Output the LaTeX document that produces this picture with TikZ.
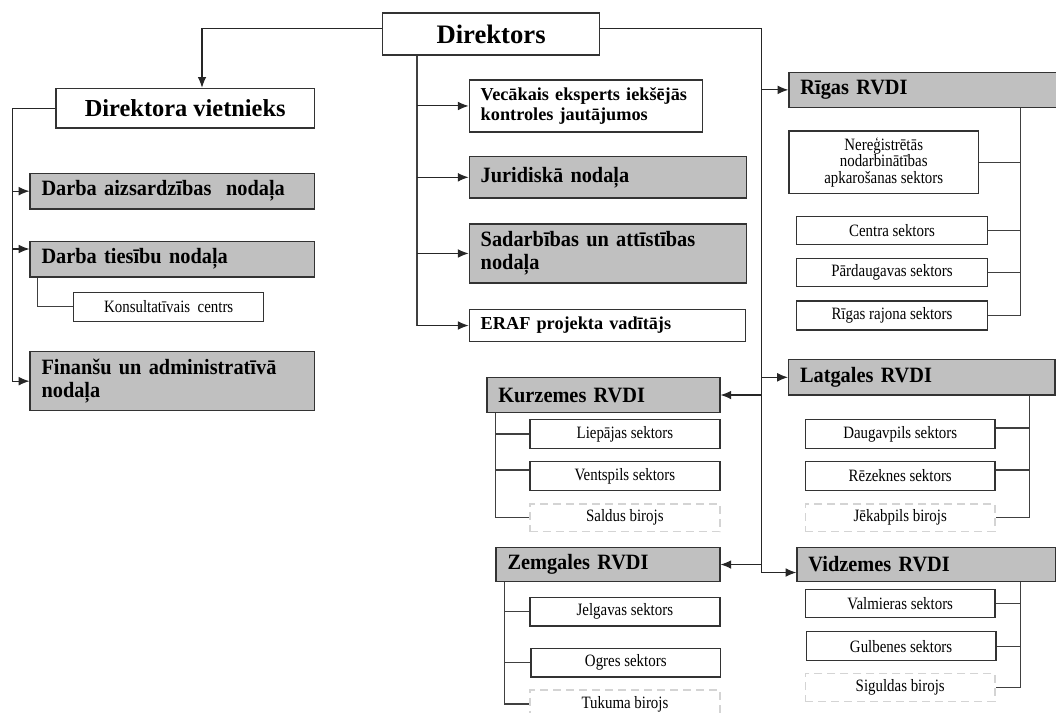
\documentclass[tikz,border=0pt]{standalone}
\usepackage{fontspec}
\setmainfont{Liberation Serif}
\newfontfamily\narrowserif[FakeStretch=0.86]{Liberation Serif}
\newfontfamily\headserif[FakeStretch=0.93]{Liberation Serif}
\usetikzlibrary{arrows.meta,calc}
\definecolor{boxgray}{HTML}{C0C0C0}
\definecolor{edgegray}{HTML}{333333}
\definecolor{linkgray}{HTML}{404040}
\definecolor{dashgray}{HTML}{D4D4D4}
\begin{document}
\begin{tikzpicture}[x=0.75pt,y=-0.75pt,
base node/.style={draw=edgegray,line width=1pt,anchor=north west,inner ysep=0pt},
white node/.style 2 args={base node,fill=white,inner xsep=0pt,minimum width=#1*0.75pt,minimum height=#2*0.75pt,align=center},
gray node/.style 2 args={base node,fill=boxgray,inner xsep=8.6pt,text width=#1*0.75pt-17.2pt,minimum height=#2*0.75pt,align=left},
left node/.style 2 args={gray node={#1}{#2},fill=white},
dash node/.style 2 args={white node={#1}{#2},draw=dashgray,dash pattern=on 6pt off 3.75pt},
top font/.style={font=\bfseries\fontsize{20}{22}\selectfont},
vice font/.style={font=\bfseries\fontsize{18.3}{20}\selectfont},
head font/.style={font=\headserif\bfseries\fontsize{16.4}{17.5}\selectfont},
mid font/.style={font=\bfseries\fontsize{13.7}{15}\selectfont},
small font/.style={font=\narrowserif\fontsize{13}{12.4}\selectfont},
arr/.style={-{Latex[length=8pt,width=6.5pt]},draw=black!85,line width=0.8pt},
link/.style={draw=linkgray,line width=0.8pt}]
\useasboundingbox (0,0) rectangle (1056,713);
\begin{scope}
\node[white node={216.8}{42},top font] (dir) at (382,12.3) {Direktors};
\node[white node={258.3}{39.6},vice font] (viet) at (55.4,87.7) {Direktora vietnieks};
\node[gray node={284.3}{35.6},head font] (aiz) at (29.4,172.7) {Darba aizsardzības~ nodaļa};
\node[gray node={284.3}{35.6},head font] (tie) at (29.4,240.7) {Darba tiesību nodaļa};
\node[white node={190}{29},small font] (kon) at (73,291.7) {Konsultatīvais~ centrs};
\node[gray node={284.3}{59},head font] (fin) at (29.4,351) {Finanšu un administratīvā\\nodaļa};
\node[left node={233.2}{52},mid font] (vec) at (468.6,79.3) {Vecākais eksperts iekšējās\\kontroles jautājumos};
\node[gray node={277.1}{41.3},head font] (jur) at (468.6,156) {Juridiskā nodaļa};
\node[gray node={277.1}{59},head font] (sad) at (468.6,223.3) {Sadarbības un attīstības\\nodaļa};
\node[left node={276.1}{32.3},mid font] (era) at (468.6,308.7) {ERAF projekta vadītājs};
\node[gray node={290}{35},head font] (rig) at (788.3,71.7) {Rīgas RVDI};
\node[white node={189.5}{62.4},small font] (ner) at (788.3,130.3) {Nereģistrētās\\nodarbinātības\\apkarošanas sektors};
\node[white node={190.6}{27.7},small font] (cen) at (796,216) {Centra sektors};
\node[white node={190.6}{28},small font] (par) at (796,258) {Pārdaugavas sektors};
\node[white node={190.6}{29},small font] (rra) at (796,300.3) {Rīgas rajona sektors};
\node[gray node={266.5}{35.3},head font] (lat) at (787.9,359) {Latgales RVDI};
\node[white node={189.5}{28.7},small font] (dau) at (804.8,419) {Daugavpils sektors};
\node[white node={189.5}{28.7},small font] (rez) at (804.8,461) {Rēzeknes sektors};
\node[dash node={189.5}{27.7},small font] (jek) at (804.8,503.3) {Jēkabpils birojs};
\node[gray node={233}{35.3},head font] (kur) at (486.2,376.7) {Kurzemes RVDI};
\node[white node={190}{28.7},small font] (lie) at (529.2,419) {Liepājas sektors};
\node[white node={190}{28.7},small font] (ven) at (529.2,461) {Ventspils sektors};
\node[dash node={190}{27.7},small font] (sal) at (529.2,503.3) {Saldus birojs};
\node[gray node={223.8}{34.3},head font] (zem) at (495.4,546.7) {Zemgales RVDI};
\node[white node={190}{28.6},small font] (jel) at (529.2,596.7) {Jelgavas sektors};
\node[white node={189.6}{28.6},small font] (ogr) at (530.3,647.7) {Ogres sektors};
\node[dash node={190}{28},small font] (tuk) at (529.3,689.3) {Tukuma birojs};
\node[gray node={258.2}{34.3},head font] (vid) at (796.3,546.7) {Vidzemes RVDI};
\node[white node={189.5}{28},small font] (val) at (804.8,588.7) {Valmieras sektors};
\node[white node={189.9}{29},small font] (gul) at (805.5,631) {Gulbenes sektors};
\node[dash node={189.5}{28},small font] (sig) at (804.8,672.7) {Siguldas birojs};
%\node[white node={}{},small font] () at (,) {};
\end{scope}
\begin{scope}
\coordinate (vt) at (202,28.3);
\coordinate (rt) at (761.8,28.3);
\coordinate (lb) at (12.5,0);
\coordinate (tb) at (37.5,0);
\coordinate (cb) at (417,0);
\coordinate (rb) at (1020.8,0);
\coordinate (gb) at (1029.2,0);
\coordinate (vb) at (1020.8,0);
\coordinate (kb) at (495.4,0);
\coordinate (zb) at (504.2,0);
\coordinate (tiein) at ($(tie.north west)+(0,8.3)$);
\draw[arr] (dir.west |- vt) -- (vt) -- (viet.north -| vt);
\draw[arr] (dir.east |- rt) -- (rt) |- ([yshift=-6pt]vid.west);
\draw[arr] (viet.west) -| (lb |- fin.west) -- (fin.west);
\draw[arr] (lb |- aiz.west) -- (aiz.west);
\draw[arr] (lb |- tiein) -- (tiein);
\draw[link] (tie.south -| tb) |- (kon.west);
\draw[link] (dir.south -| cb) -- (cb |- era.west);
\draw[arr] (cb |- vec.west) -- (vec.west);
\draw[arr] (cb |- jur.west) -- (jur.west);
\draw[arr] (cb |- sad.west) -- (sad.west);
\draw[arr] (cb |- era.west) -- (era.west);
\draw[arr] (rt |- rig.west) -- (rig.west);
\draw[arr] (rt |- lat.west) -- (lat.west);
\draw[arr] (rt |- kur.east) -- (kur.east);
\draw[arr] (rt |- zem.east) -- (zem.east);
\draw[link] (rig.south -| rb) |- (rra.east);
\draw[link] (ner.east) -- (ner.east -| rb);
\draw[link] (cen.east) -- (cen.east -| rb);
\draw[link] (par.east) -- (par.east -| rb);
\draw[link] (lat.south -| gb) |- (jek.east);
\draw[link] ([yshift=4.5pt]dau.east) -- ([yshift=4.5pt]dau.east -| gb);
\draw[link] ([yshift=4.5pt]rez.east) -- ([yshift=4.5pt]rez.east -| gb);
\draw[link] (vid.south -| vb) |- (sig.east);
\draw[link] (val.east) -- (val.east -| vb);
\draw[link] (gul.east) -- (gul.east -| vb);
\draw[link] (kur.south -| kb) |- (sal.west);
\draw[link] (lie.west) -- (lie.west -| kb);
\draw[link] ([yshift=4.5pt]ven.west) -- ([yshift=4.5pt]ven.west -| kb);
\draw[link] (zem.south -| zb) |- (tuk.west);
\draw[link] (jel.west) -- (jel.west -| zb);
\draw[link] (ogr.west) -- (ogr.west -| zb);
%\draw[link] () -- ();
\end{scope}
\end{tikzpicture}
\end{document}
